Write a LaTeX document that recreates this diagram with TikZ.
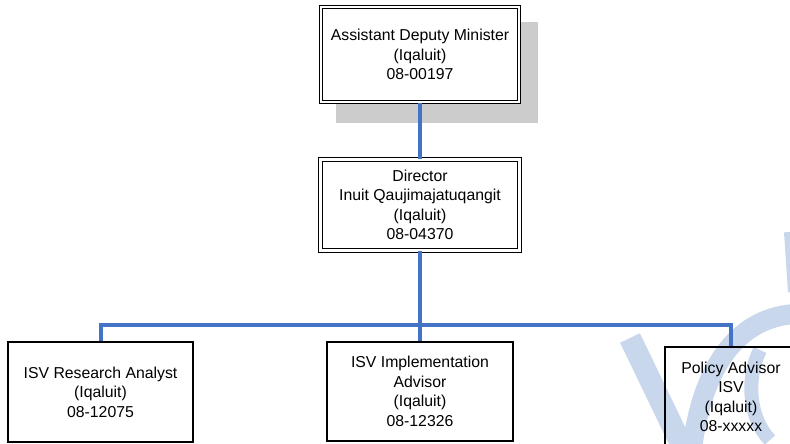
\documentclass[tikz,border=0pt]{standalone}
\usepackage{fontspec}
\setmainfont{Liberation Sans}
\begin{document}
\begin{tikzpicture}[x=1pt,y=-1pt,
  txt/.style={font=\fontsize{15.8}{19.5}\selectfont, align=center, inner sep=0pt},
  dblbox/.style={txt, draw, double, double distance=2.2pt, line width=1.1pt, fill=white},
  sglbox/.style={txt, draw, line width=1.2pt},
  conn/.style={draw=connblue, line width=4pt},
  wm/.style={draw=wmblue, line cap=butt}]
\definecolor{connblue}{HTML}{4472C4}
\definecolor{wmblue}{HTML}{C8D7EC}
\definecolor{shadowgray}{HTML}{CCCCCC}
\useasboundingbox (0,0) rectangle (790,444);
% watermark
\draw[wm, line width=22pt] (630,338) -- (684,450);
\draw[wm, line width=20pt] (692,450) .. controls (700,380) and (730,318) .. (795,314);
\draw[wm, line width=10pt] (789,232) -- (793,292);
\draw[wm, line width=14pt] (760,350) .. controls (745,380) and (750,420) .. (770,440);
% shadow
\fill[shadowgray] (336,22) rectangle (538,123);
% nodes
\node[dblbox, minimum width=198pt, minimum height=95pt] (adm) at (420,54.5)
  {Assistant Deputy Minister\\(Iqaluit)\\08-00197};
\node[dblbox, minimum width=199pt, minimum height=91pt] (dir) at (420,205)
  {Director\\Inuit Qaujimajatuqangit\\(Iqaluit)\\08-04370};
\node[sglbox, minimum width=185pt, minimum height=100pt] (b1) at (100.5,392)
  {ISV Research Analyst\\(Iqaluit)\\08-12075};
\node[sglbox, minimum width=186pt, minimum height=99pt] (b2) at (420,391.5)
  {ISV Implementation\\Advisor\\(Iqaluit)\\08-12326};
\node[sglbox, minimum width=132pt, minimum height=100pt] (b3) at (731,397)
  {Policy Advisor\\ISV\\(Iqaluit)\\08-xxxxx};
\coordinate (bus) at (420,325);
% connectors
\draw[conn] (adm.south) -- (dir.north);
\draw[conn] (dir.south) -- (bus);
\draw[conn] (b1.north) -- (b1.north |- bus) -- (b3.north |- bus) -- (b3.north);
\draw[conn] (bus) -- (b2.north);
\end{tikzpicture}
\end{document}
